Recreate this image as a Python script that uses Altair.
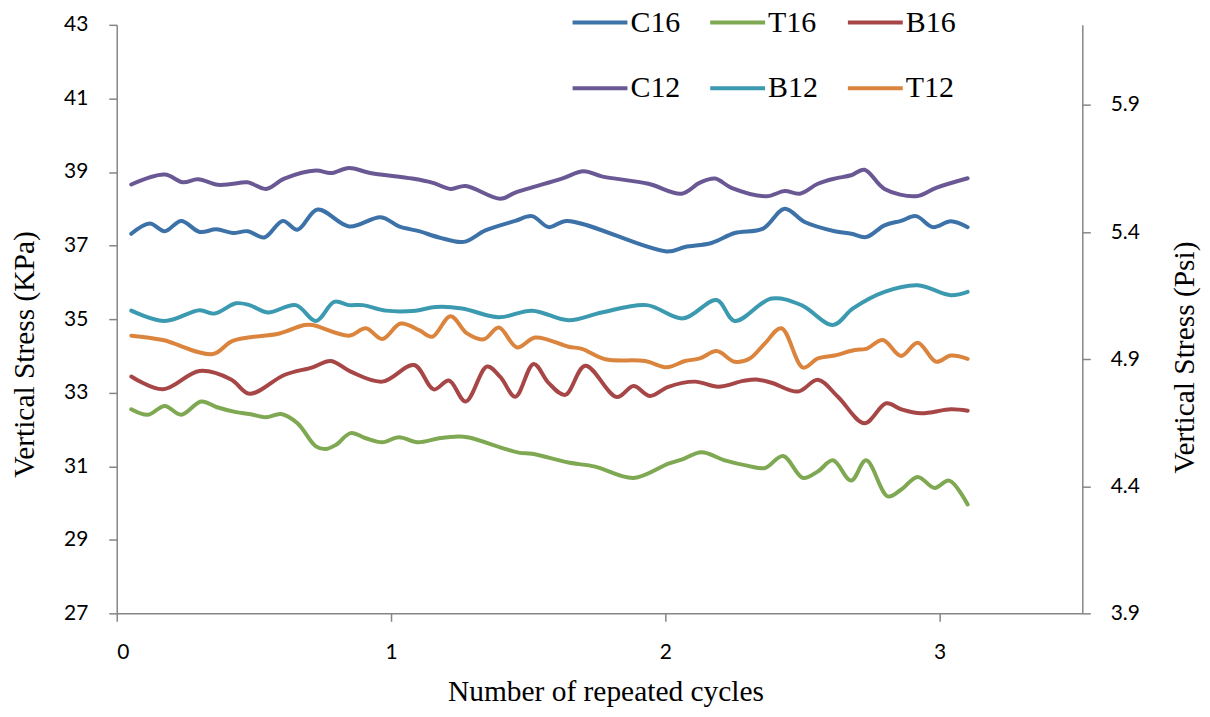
import altair as alt
import pandas as pd

# ---- data ----
c16_x = [0.053, 0.12, 0.175, 0.235, 0.302, 0.363, 0.423, 0.477, 0.538, 0.605, 0.659, 0.732, 0.847, 0.963,
         1.029, 1.102, 1.175, 1.265, 1.344, 1.453, 1.514, 1.575, 1.641, 2.005, 2.072, 2.168, 2.253, 2.356,
         2.435, 2.508, 2.617, 2.678, 2.732, 2.799, 2.859, 2.914, 2.975, 3.041, 3.102]
c16_y = [37.32, 37.60, 37.39, 37.67, 37.37, 37.44, 37.34, 37.39, 37.22, 37.67, 37.43, 37.98, 37.52, 37.77,
         37.52, 37.39, 37.22, 37.10, 37.41, 37.67, 37.80, 37.50, 37.67, 36.84, 36.96, 37.07, 37.34, 37.46,
         38.00, 37.64, 37.39, 37.32, 37.23, 37.55, 37.67, 37.80, 37.50, 37.66, 37.50]

t16_x = [0.053, 0.114, 0.175, 0.235, 0.308, 0.363, 0.435, 0.484, 0.544, 0.599, 0.659, 0.726, 0.763, 0.799,
         0.853, 0.908, 0.968, 1.029, 1.096, 1.175, 1.247, 1.284, 1.465, 1.514, 1.647, 1.744, 1.884, 2.011,
         2.059, 2.132, 2.217, 2.302, 2.363, 2.429, 2.502, 2.556, 2.611, 2.677, 2.732, 2.811, 2.859, 2.92,
         2.981, 3.035, 3.102]
t16_y = [32.55, 32.40, 32.64, 32.40, 32.76, 32.61, 32.47, 32.42, 32.33, 32.42, 32.17, 31.54, 31.47, 31.58,
         31.90, 31.76, 31.65, 31.79, 31.65, 31.76, 31.81, 31.78, 31.37, 31.34, 31.10, 30.99, 30.68, 31.07,
         31.18, 31.38, 31.16, 31.01, 30.95, 31.28, 30.68, 30.86, 31.16, 30.61, 31.16, 30.18, 30.36, 30.71,
         30.41, 30.61, 29.96]

b16_x = [0.053, 0.168, 0.302, 0.417, 0.484, 0.611, 0.714, 0.781, 0.853, 0.968, 1.084, 1.156, 1.211, 1.272,
         1.35, 1.399, 1.453, 1.52, 1.575, 1.635, 1.708, 1.823, 1.884, 1.944, 2.011, 2.108, 2.193, 2.284,
         2.332, 2.387, 2.484, 2.556, 2.629, 2.726, 2.805, 2.859, 2.932, 3.041, 3.102]
b16_y = [33.44, 33.09, 33.59, 33.36, 32.97, 33.48, 33.69, 33.86, 33.57, 33.30, 33.75, 33.09, 33.33, 32.76,
         33.71, 33.42, 32.89, 33.78, 33.26, 32.94, 33.73, 32.88, 33.18, 32.91, 33.16, 33.30, 33.16, 33.32,
         33.36, 33.27, 33.03, 33.35, 32.89, 32.17, 32.71, 32.55, 32.44, 32.55, 32.51]

c12_x = [0.053, 0.175, 0.241, 0.296, 0.368, 0.417, 0.477, 0.544, 0.611, 0.726, 0.781, 0.847, 0.92, 1.077,
         1.15, 1.217, 1.272, 1.399, 1.453, 1.623, 1.702, 1.768, 1.938, 2.059, 2.126, 2.181, 2.241, 2.368,
         2.435, 2.49, 2.556, 2.617, 2.677, 2.726, 2.799, 2.914, 2.987, 3.102]
c12_y = [38.66, 38.93, 38.72, 38.80, 38.65, 38.67, 38.72, 38.54, 38.82, 39.04, 38.97, 39.11, 38.98, 38.82,
         38.71, 38.54, 38.62, 38.27, 38.44, 38.82, 39.02, 38.88, 38.68, 38.41, 38.71, 38.82, 38.57, 38.34,
         38.48, 38.41, 38.68, 38.82, 38.91, 39.06, 38.54, 38.34, 38.57, 38.83]

b12_x = [0.053, 0.175, 0.302, 0.356, 0.435, 0.484, 0.55, 0.653, 0.726, 0.793, 0.847, 0.896, 0.981, 1.09,
         1.163, 1.259, 1.393, 1.514, 1.647, 1.768, 1.932, 2.065, 2.187, 2.253, 2.387, 2.496, 2.611, 2.684,
         2.799, 2.92, 3.041, 3.102]
b12_y = [35.23, 34.95, 35.24, 35.15, 35.43, 35.38, 35.18, 35.38, 34.95, 35.47, 35.38, 35.38, 35.23, 35.23,
         35.33, 35.29, 35.05, 35.23, 34.97, 35.18, 35.38, 35.02, 35.52, 34.95, 35.56, 35.38, 34.84, 35.29,
         35.74, 35.92, 35.65, 35.74]

t12_x = [0.053, 0.168, 0.35, 0.423, 0.593, 0.684, 0.714, 0.847, 0.908, 0.968, 1.035, 1.102, 1.15, 1.217,
         1.277, 1.338, 1.393, 1.459, 1.526, 1.647, 1.696, 1.781, 1.926, 2.005, 2.072, 2.126, 2.187, 2.253,
         2.308, 2.363, 2.423, 2.502, 2.556, 2.617, 2.69, 2.732, 2.793, 2.859, 2.92, 2.987, 3.041, 3.102]
t12_y = [34.55, 34.43, 34.05, 34.41, 34.61, 34.84, 34.84, 34.55, 34.75, 34.46, 34.88, 34.70, 34.52, 35.08,
         34.61, 34.45, 34.77, 34.23, 34.50, 34.25, 34.19, 33.91, 33.86, 33.69, 33.86, 33.93, 34.13, 33.84,
         33.93, 34.34, 34.75, 33.68, 33.93, 34.01, 34.16, 34.19, 34.43, 34.00, 34.36, 33.84, 34.01, 33.92]

series_names = ["C16", "T16", "B16", "C12", "B12", "T12"]
series_colors = ["#3D72A9", "#7FA852", "#A64646", "#6A5894", "#3B9AAF", "#DB843D"]

left_ticks = [27, 29, 31, 33, 35, 37, 39, 41, 43]
right_ticks = [3.9, 4.4, 4.9, 5.4, 5.9]
x_ticks = [0, 1, 2, 3]

# ---- build table ----
rows = []
for name, xs, ys in [("C16", c16_x, c16_y), ("T16", t16_x, t16_y), ("B16", b16_x, b16_y),
                     ("C12", c12_x, c12_y), ("B12", b12_x, b12_y), ("T12", t12_x, t12_y)]:
    for xv, yv in zip(xs, ys):
        rows.append({"series": name, "cycle": xv, "stress": yv})
df = pd.DataFrame(rows)

axis_color = "#868686"
tick_font = "Lato"
title_font = "Liberation Serif"

common_axis = dict(grid=False, domainColor=axis_color, tickColor=axis_color, domainWidth=1.5,
                   tickWidth=1.5, tickSize=8, labelColor="black", titleColor="black",
                   labelFont=tick_font, labelFontSize=21, titleFont=title_font,
                   titleFontSize=29.5, titleFontWeight="normal")

x_enc = alt.X("cycle:Q",
              scale=alt.Scale(domain=[0, 3.52], nice=False, zero=False),
              axis=alt.Axis(values=x_ticks, format="d", title="Number of repeated cycles",
                            labelPadding=20, titlePadding=15, titleX=490, **common_axis))

lines = alt.Chart(df).mark_line(interpolate="catmull-rom", strokeWidth=4,
                                strokeCap="round", strokeJoin="round").encode(
    x=x_enc,
    y=alt.Y("stress:Q", scale=alt.Scale(domain=[27, 43], nice=False, zero=False),
            axis=alt.Axis(values=left_ticks, format="d", title="Vertical Stress (KPa)",
                          labelPadding=21, titlePadding=24, titleY=330, **common_axis)),
    color=alt.Color("series:N",
                    scale=alt.Scale(domain=series_names, range=series_colors),
                    sort=series_names,
                    legend=alt.Legend(orient="none", legendX=455, legendY=-32, columns=3,
                                      direction="horizontal",
                                      title=None, symbolType="stroke", symbolSize=3025,
                                      symbolStrokeWidth=4, labelFont=title_font,
                                      labelFontSize=30, labelColor="black", labelOffset=1,
                                      columnPadding=21, rowPadding=21)),
    detail="series:N",
)

right = alt.Chart(pd.DataFrame({"psi": right_ticks})).mark_point(opacity=0).encode(
    y=alt.Y("psi:Q", scale=alt.Scale(domain=[3.9, 6.215], nice=False, zero=False),
            axis=alt.Axis(values=right_ticks, format=".1f", orient="right",
                          title="Vertical Stress (Psi)", titleAngle=270, titleY=333,
                          labelPadding=20, titlePadding=60, **common_axis)),
)

chart = alt.layer(lines, right).resolve_scale(y="independent").properties(
    width=968, height=590,
    autosize=alt.AutoSizeParams(type="none"),
    padding={"left": 109, "top": 16, "right": 120, "bottom": 95},
).configure_view(stroke=None)

chart.save("out.html", embed_options={"renderer": "svg", "actions": False})
